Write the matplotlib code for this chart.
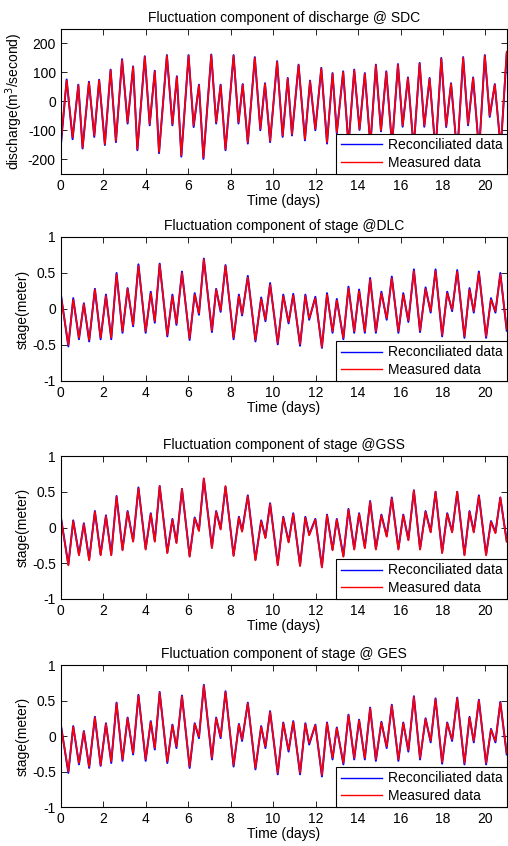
import matplotlib
matplotlib.use("Agg")
import matplotlib.pyplot as plt

plt.rcParams['font.family'] = ['Liberation Sans', 'DejaVu Sans']
plt.rcParams['axes.unicode_minus'] = False
plt.rcParams['font.size'] = 10

# turning points (high / low water), time in days
sdc_days = [0.0, 0.28, 0.56, 0.83, 1.03, 1.33, 1.58, 1.81, 2.08, 2.35,
            2.6, 2.89, 3.15, 3.41, 3.61, 3.96, 4.19, 4.43, 4.63, 5.0,
            5.26, 5.47, 5.68, 6.02, 6.26, 6.51, 6.72, 7.09, 7.32, 7.53,
            7.76, 8.14, 8.37, 8.57, 8.81, 9.14, 9.4, 9.62, 9.86, 10.19,
            10.45, 10.69, 10.89, 11.2, 11.5, 11.74, 11.99, 12.27, 12.54, 12.8,
            13.0, 13.3, 13.55, 13.82, 14.07, 14.32, 14.58, 14.84, 15.08, 15.33,
            15.6, 15.88, 16.1, 16.35, 16.62, 16.9, 17.12, 17.37, 17.65, 17.92,
            18.15, 18.38, 18.67, 18.95, 19.18, 19.42, 19.7, 19.97, 20.2, 20.44,
            20.72, 21.0]

sdc_measured = [-150, 73, -124, 56, -159, 65, -118, 73, -147, 108,
                -136, 143, -72, 119, -165, 154, -78, 104, -174, 158,
                -78, 85, -186, 158, -83, 56, -194, 160, -72, 56,
                -165, 158, -72, 58, -141, 151, -95, 61, -136, 137,
                -118, 79, -113, 125, -130, 70, -95, 114, -141, 96,
                -107, 102, -150, 108, -95, 96, -150, 125, -100, 102,
                -150, 127, -83, 81, -160, 131, -83, 79, -170, 148,
                -85, 61, -180, 151, -78, 81, -170, 158, -49, 58,
                -160, 172]

sdc_reconciled = [-158, 76, -130, 58, -162, 68, -122, 75, -150, 110,
                  -140, 146, -76, 121, -168, 156, -82, 106, -178, 160,
                  -82, 87, -190, 160, -88, 58, -198, 162, -76, 58,
                  -168, 160, -76, 60, -145, 153, -99, 63, -140, 139,
                  -122, 81, -117, 127, -134, 72, -99, 116, -145, 98,
                  -110, 104, -153, 110, -98, 98, -153, 127, -103, 104,
                  -153, 129, -87, 83, -163, 133, -87, 81, -173, 150,
                  -88, 63, -183, 153, -82, 83, -173, 160, -53, 60,
                  -163, 165]

stage_days = [0.0, 0.36, 0.59, 0.86, 1.09, 1.34, 1.61, 1.88, 2.13, 2.38,
              2.63, 2.91, 3.15, 3.41, 3.66, 4.0, 4.24, 4.43, 4.66, 5.02,
              5.26, 5.45, 5.71, 6.07, 6.31, 6.51, 6.74, 7.12, 7.32, 7.53,
              7.76, 8.14, 8.39, 8.54, 8.81, 9.17, 9.44, 9.64, 9.86, 10.22,
              10.48, 10.73, 10.95, 11.27, 11.52, 11.7, 11.99, 12.3, 12.54, 12.8,
              13.0, 13.31, 13.55, 13.82, 14.05, 14.32, 14.57, 14.84, 15.1, 15.35,
              15.59, 15.9, 16.13, 16.37, 16.63, 16.92, 17.18, 17.42, 17.65, 17.96,
              18.2, 18.43, 18.67, 19.01, 19.25, 19.45, 19.69, 20.03, 20.26, 20.47,
              20.7, 21.0]

dlc_measured = [0.2, -0.5, 0.13, -0.4, 0.07, -0.43, 0.27, -0.4, 0.18, -0.4,
                0.48, -0.31, 0.28, -0.22, 0.6, -0.31, 0.22, -0.17, 0.62, -0.36,
                0.18, -0.2, 0.5, -0.41, 0.2, -0.06, 0.69, -0.3, 0.27, -0.02,
                0.6, -0.4, 0.18, -0.07, 0.44, -0.43, 0.14, -0.15, 0.34, -0.47,
                0.18, -0.18, 0.19, -0.49, 0.18, -0.13, 0.15, -0.53, 0.2, -0.31,
                0.12, -0.4, 0.29, -0.31, 0.25, -0.31, 0.41, -0.31, 0.22, -0.13,
                0.43, -0.31, 0.2, -0.16, 0.53, -0.3, 0.28, -0.03, 0.53, -0.36,
                0.22, -0.01, 0.52, -0.38, 0.27, -0.03, 0.5, -0.38, 0.13, -0.03,
                0.48, -0.28]

dlc_reconciled = [0.22, -0.52, 0.15, -0.42, 0.08, -0.45, 0.28, -0.42, 0.2, -0.42,
                  0.5, -0.33, 0.29, -0.24, 0.62, -0.33, 0.24, -0.19, 0.63, -0.38,
                  0.2, -0.22, 0.52, -0.43, 0.22, -0.08, 0.7, -0.32, 0.28, -0.04,
                  0.61, -0.42, 0.2, -0.09, 0.46, -0.45, 0.16, -0.17, 0.36, -0.49,
                  0.2, -0.2, 0.21, -0.51, 0.2, -0.15, 0.17, -0.54, 0.22, -0.33,
                  0.14, -0.42, 0.31, -0.33, 0.27, -0.33, 0.43, -0.33, 0.24, -0.15,
                  0.45, -0.33, 0.22, -0.18, 0.55, -0.32, 0.3, -0.05, 0.55, -0.38,
                  0.24, -0.03, 0.54, -0.4, 0.29, -0.05, 0.52, -0.4, 0.15, -0.05,
                  0.5, -0.3]

gss_measured = [0.15, -0.53, 0.09, -0.39, 0.05, -0.46, 0.22, -0.39, 0.16, -0.39,
                0.43, -0.32, 0.22, -0.2, 0.55, -0.31, 0.19, -0.2, 0.58, -0.36,
                0.11, -0.22, 0.54, -0.41, 0.13, -0.05, 0.69, -0.29, 0.22, -0.03,
                0.58, -0.4, 0.14, -0.06, 0.44, -0.46, 0.09, -0.15, 0.33, -0.53,
                0.14, -0.21, 0.19, -0.54, 0.14, -0.11, 0.11, -0.56, 0.17, -0.32,
                0.11, -0.41, 0.25, -0.31, 0.19, -0.29, 0.36, -0.31, 0.17, -0.13,
                0.41, -0.31, 0.17, -0.18, 0.52, -0.31, 0.22, -0.07, 0.5, -0.36,
                0.19, -0.07, 0.5, -0.39, 0.22, -0.07, 0.44, -0.39, 0.08, -0.08,
                0.42, -0.2]

gss_reconciled = [0.16, -0.52, 0.1, -0.38, 0.06, -0.45, 0.23, -0.38, 0.17, -0.38,
                  0.44, -0.31, 0.23, -0.19, 0.56, -0.3, 0.2, -0.19, 0.58, -0.35,
                  0.12, -0.21, 0.54, -0.4, 0.14, -0.04, 0.68, -0.28, 0.23, -0.02,
                  0.57, -0.39, 0.15, -0.05, 0.45, -0.45, 0.1, -0.14, 0.34, -0.52,
                  0.15, -0.2, 0.2, -0.53, 0.15, -0.1, 0.12, -0.55, 0.18, -0.31,
                  0.12, -0.4, 0.26, -0.3, 0.2, -0.28, 0.37, -0.3, 0.18, -0.12,
                  0.42, -0.3, 0.18, -0.17, 0.52, -0.3, 0.23, -0.06, 0.5, -0.35,
                  0.2, -0.06, 0.5, -0.38, 0.23, -0.06, 0.45, -0.38, 0.09, -0.07,
                  0.42, -0.19]

ges_measured = [0.16, -0.5, 0.13, -0.38, 0.06, -0.43, 0.26, -0.41, 0.17, -0.36,
                0.46, -0.33, 0.25, -0.24, 0.57, -0.33, 0.2, -0.17, 0.61, -0.36,
                0.15, -0.15, 0.56, -0.43, 0.17, -0.01, 0.71, -0.31, 0.25, -0.01,
                0.62, -0.41, 0.16, -0.05, 0.46, -0.45, 0.13, -0.15, 0.34, -0.52,
                0.18, -0.2, 0.2, -0.52, 0.17, -0.1, 0.15, -0.55, 0.18, -0.31,
                0.11, -0.38, 0.29, -0.31, 0.22, -0.31, 0.39, -0.33, 0.19, -0.15,
                0.43, -0.33, 0.18, -0.2, 0.55, -0.31, 0.24, -0.07, 0.52, -0.37,
                0.18, -0.05, 0.53, -0.38, 0.26, -0.07, 0.5, -0.38, 0.09, -0.07,
                0.47, -0.24]

ges_reconciled = [0.17, -0.52, 0.14, -0.4, 0.07, -0.45, 0.27, -0.42, 0.18, -0.38,
                  0.47, -0.35, 0.26, -0.26, 0.58, -0.35, 0.21, -0.19, 0.62, -0.38,
                  0.16, -0.17, 0.57, -0.45, 0.18, -0.03, 0.72, -0.33, 0.26, -0.03,
                  0.63, -0.43, 0.17, -0.07, 0.47, -0.47, 0.14, -0.17, 0.35, -0.54,
                  0.19, -0.22, 0.21, -0.54, 0.18, -0.12, 0.16, -0.57, 0.19, -0.33,
                  0.12, -0.4, 0.3, -0.33, 0.23, -0.33, 0.4, -0.35, 0.2, -0.17,
                  0.44, -0.35, 0.19, -0.22, 0.56, -0.33, 0.25, -0.09, 0.53, -0.39,
                  0.19, -0.07, 0.54, -0.4, 0.27, -0.09, 0.51, -0.4, 0.1, -0.09,
                  0.48, -0.26]

x_ticks = list(range(0, 21, 2))
stage_ticks = [-1, -0.5, 0, 0.5, 1]
sdc_ticks = [-200, -100, 0, 100, 200]

W, H = 508, 846
fig = plt.figure(figsize=(W / 100, H / 100), dpi=100)


def panel(top, bottom, days, rec, meas, title, ylabel, ylim, yticks):
    # axes box given in pixels from the top of the figure
    left, right = 60.7, 506.7
    ax = fig.add_axes([left / W, 1 - bottom / H, (right - left) / W, (bottom - top) / H])
    ax.plot(days, rec, color='b', lw=1.4, solid_joinstyle='round',
            label='Reconciliated data')
    ax.plot(days, meas, color='r', lw=1.2, solid_joinstyle='round',
            label='Measured data')
    ax.set_xlim(0, 21)
    ax.set_ylim(*ylim)
    ax.set_xticks(x_ticks)
    ax.set_yticks(yticks)
    ax.set_yticklabels([f"{t:g}" for t in yticks])
    ax.tick_params(direction='in', top=True, right=True, length=4, width=0.6, labelsize=10)
    for s in ax.spines.values():
        s.set_linewidth(0.8)
    ax.set_title(title, fontsize=10, pad=5)
    ax.set_xlabel('Time (days)', fontsize=10, labelpad=1)
    ax.set_ylabel(ylabel, fontsize=10, labelpad=2)
    leg = ax.legend(loc='lower right', borderaxespad=0, fancybox=False,
                    framealpha=1, edgecolor='black', fontsize=10,
                    handlelength=3.0, handletextpad=0.4, labelspacing=0.25,
                    borderpad=0.3)
    leg.get_frame().set_linewidth(0.8)
    for h in leg.get_lines():
        h.set_linewidth(1.0)
    return ax


panel(29, 174, sdc_days, sdc_reconciled, sdc_measured,
      'Fluctuation component of discharge @ SDC', 'discharge(m$^3$/second)',
      (-250, 250), sdc_ticks)
panel(237, 381, stage_days, dlc_reconciled, dlc_measured,
      'Fluctuation component of stage @DLC', 'stage(meter)', (-1, 1), stage_ticks)
panel(456, 599, stage_days, gss_reconciled, gss_measured,
      'Fluctuation component of stage @GSS', 'stage(meter)', (-1, 1), stage_ticks)
panel(665, 807, stage_days, ges_reconciled, ges_measured,
      'Fluctuation component of stage @ GES', 'stage(meter)', (-1, 1), stage_ticks)

fig.savefig('out.png', dpi=100)
